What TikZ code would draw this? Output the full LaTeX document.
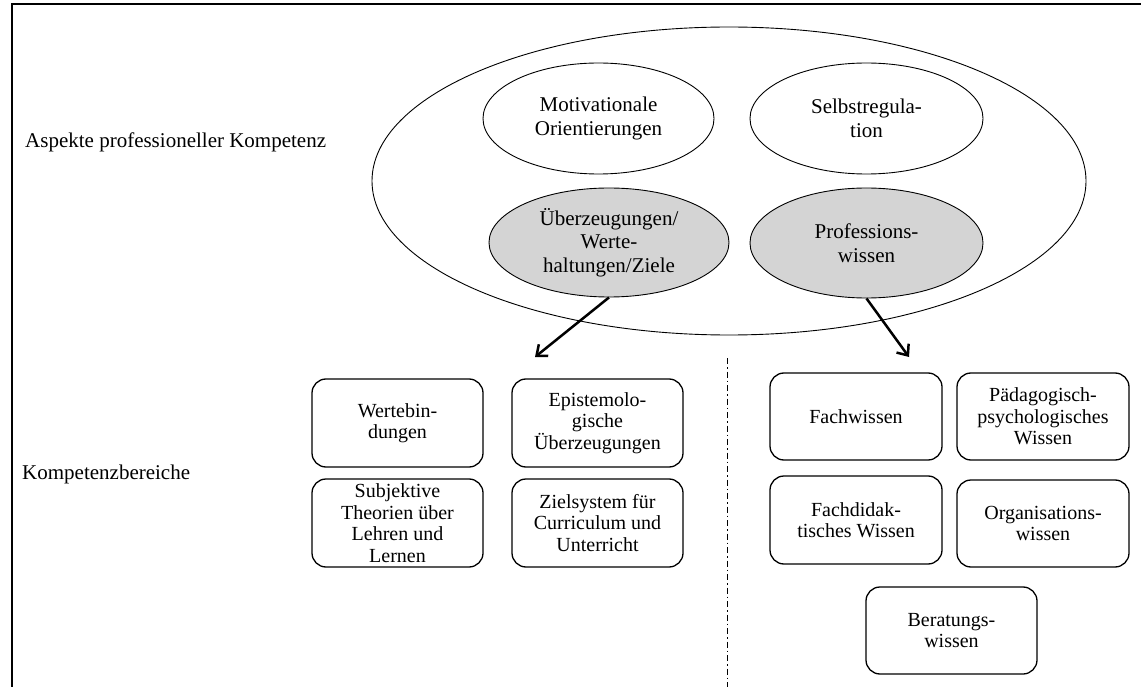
\documentclass[tikz,border=0pt]{standalone}
\usepackage{fontspec}
\setmainfont{Liberation Serif}
\usetikzlibrary{positioning,arrows.meta,shapes.geometric}
\tikzset{oval/.style={
    draw, ellipse, line width=0.9pt, inner sep=0pt, align=center,
    font=\fontsize{21}{23.5}\selectfont
    },
  kern/.style={oval, fill=black!17},
  bereich/.style={
    draw, rounded corners=14pt, line width=1.3pt, inner sep=0pt,
    minimum width=171pt, minimum height=88pt, align=center,
    font=\fontsize{20}{21.5}\selectfont
    },
  titel/.style={anchor=west, inner sep=0pt, font=\fontsize{21}{23.5}\selectfont}
}

\begin{document}
\begin{tikzpicture}[x=1pt,y=-1pt,>={Straight Barb[length=9pt,width=15pt]}]
	\useasboundingbox (0,0) rectangle (1141,687);
	\draw[line width=1.3pt] (12,700) -- (12,4) -- (1150,4);

	\node[titel] (T1) at (25,142) {Aspekte professioneller Kompetenz};
	\node[titel] (T2) at (22,474) {Kompetenzbereiche};

	\node[oval,minimum width=714pt,minimum height=308pt] (E0) at (729,181) {};
	\node[oval,minimum width=231pt,minimum height=111pt] (E1) at (598.5,118.5) {Motivationale\\Orientierungen};
	\node[oval,minimum width=233pt,minimum height=111pt] (E2) at (866.5,118.5) {Selbstregula-\\tion};
	\node[kern,minimum width=240pt,minimum height=109pt] (E3) at (609,242.5) {Überzeugungen/\\Werte-\\haltungen/Ziele};
	\node[kern,minimum width=233pt,minimum height=110pt] (E4) at (866.5,243) {Professions-\\wissen};

	\coordinate (Z1) at (535,357);
	\coordinate (Z2) at (909,357);
	\draw [->,line width=2.5pt] (E3.south) -- (Z1);
	\draw [->,line width=2.5pt] (E4.south) -- (Z2);

	\draw[line width=1pt,dash pattern=on 6pt off 3pt on 1.5pt off 3pt] (727,358) -- (727,687);

	\node[bereich] (B1) at (397.5,423) {Wertebin-\\dungen};
	\node[bereich] (B2) at (597.5,423) {Epistemolo-\\gische\\Überzeugungen};
	\node[bereich] (B3) at (397.5,523) {Subjektive\\Theorien über\\Lehren und\\Lernen};
	\node[bereich] (B4) at (597.5,523) {Zielsystem für\\Curriculum und\\Unterricht};

	\node[bereich,minimum width=172pt,minimum height=87pt] (W1) at (856,416.5) {Fachwissen};
	\node[bereich,minimum width=172pt,minimum height=87pt] (W2) at (1043,416.5) {Pädagogisch-\\psychologisches\\Wissen};
	\node[bereich,minimum width=172pt,minimum height=88pt] (W3) at (856,520) {Fachdidak-\\tisches Wissen};
	\node[bereich,minimum width=172pt,minimum height=87pt] (W4) at (1043,523.5) {Organisations-\\wissen};
	\node[bereich,minimum width=171pt,minimum height=87pt] (W5) at (951.5,630.5) {Beratungs-\\wissen};

\end{tikzpicture}
\end{document}
